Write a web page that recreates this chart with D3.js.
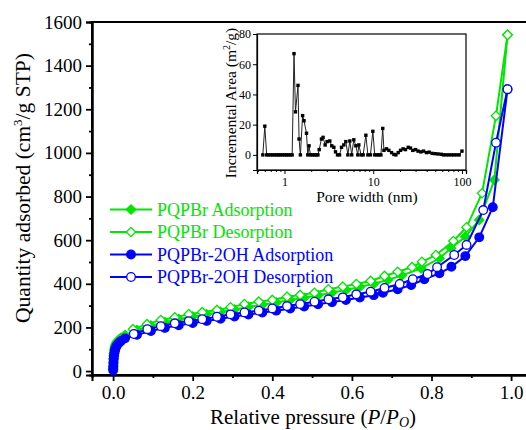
<!DOCTYPE html>
<html><head><meta charset="utf-8">
<script src="https://cdn.jsdelivr.net/npm/d3@7"></script>
<style>
body{margin:0;background:#fff;}
svg{display:block;}
</style></head>
<body><svg id="c" width="526" height="430"></svg>
<script>
// ---------- main isotherm data ----------
const pqpbrAdsP = [0.0002,0.0004,0.0007,0.001,0.0015,0.002,0.003,0.004,0.005,0.006,0.008,0.01,0.015,0.02,0.03,0.06,0.095,0.13,0.165,0.2,0.235,0.27,0.305,0.34,0.375,0.41,0.445,0.48,0.515,0.55,0.585,0.62,0.655,0.69,0.725,0.774,0.82,0.849,0.885,0.92,0.958,0.991];
const pqpbrAdsQ = [8,20,38,55,70,82,95,105,113,120,128,135,145,152,165,188,208,224,238,250,260,271,282,294,304,314,326,336,347,360,372,386,400,418,438,471,517,563,616,693,876,1541];
const pqpbrDesP = [0.991,0.962,0.927,0.888,0.855,0.811,0.776,0.751,0.715,0.682,0.647,0.611,0.577,0.541,0.506,0.47,0.437,0.40,0.366,0.33,0.295,0.261,0.224,0.19,0.155,0.12,0.085,0.05];
const pqpbrDesQ = [1541,1170,815,659,596,532,501,476,455,436,413,399,387,375,359,349,341,326,318,307,292,280,270,261,246,234,215,192];
const ohAdsP = [0.0002,0.0004,0.0007,0.001,0.0015,0.002,0.003,0.004,0.005,0.006,0.008,0.01,0.015,0.02,0.03,0.06,0.095,0.13,0.165,0.2,0.235,0.27,0.305,0.34,0.375,0.41,0.445,0.48,0.515,0.55,0.585,0.62,0.655,0.678,0.715,0.749,0.782,0.82,0.85,0.885,0.92,0.954,0.991];
const ohAdsQ = [4,14,28,42,56,68,80,90,98,105,113,120,130,138,150,166,184,198,210,220,230,240,250,259,268,277,287,296,306,316,326,337,348,359,375,394,421,448,478,527,613,751,1292];
const ohDesP = [0.991,0.962,0.93,0.888,0.857,0.814,0.79,0.753,0.72,0.682,0.647,0.611,0.577,0.541,0.506,0.47,0.437,0.40,0.366,0.33,0.295,0.261,0.224,0.19,0.155,0.12,0.086,0.052];
const ohDesQ = [1292,1047,738,578,532,476,445,421,399,381,364,352,338,329,318,307,298,287,277,269,260,249,238,229,219,206,192,170];

const seriesNames = ["PQPBr Adsorption","PQPBr Desorption","PQPBr-2OH Adsorption","PQPBr-2OH Desorption"];
const xTicks = [0,0.2,0.4,0.6,0.8,1.0];
const xMinor = [0.1,0.3,0.5,0.7,0.9];
const yTicks = [0,200,400,600,800,1000,1200,1400,1600];
const yMinor = [100,300,500,700,900,1100,1300,1500];

// ---------- inset pore-size data ----------
const poreWidth = [0.57,0.60,0.63,0.66,0.70,0.74,0.78,0.82,0.86,0.90,0.95,1.00,1.05,1.10,1.16,1.22,1.28,1.33,1.42,1.46,1.51,1.60,1.66,1.77,1.83,1.89,1.96,2.07,2.17,2.28,2.38,2.46,2.61,2.72,2.87,3.02,3.24,3.41,3.60,3.76,3.96,4.17,4.39,4.66,4.91,5.18,5.45,5.72,6.04,6.37,6.70,6.88,7.30,7.70,8.26,8.70,9.30,9.90,10.4,11.0,11.6,12.2,12.8,13.2,14.1,15.0,16.1,17.1,18.0,19.1,20.3,21.7,23.1,24.8,26.3,27.9,30.0,32.0,34.4,36.9,39.8,42.7,46.1,49.9,53.8,58.3,62,66,71,76,81,87,93,100];
const incArea   = [0,19,0,0,0,0,0,0,0,0,0,0,0,0,0,0,67,28.5,46,10.5,0,26,22.6,14.3,0,6,0,0,0,0,0,3.5,10.5,11.6,6.6,8.8,9.2,6,5,2,0,0,5,6.6,8.8,0,9.2,0,10,6,0,6.6,0,0,13,0,0,15.6,0,0,0,0,17.5,3,4,3,1.5,0.3,0,1.5,3,4,3.5,5,4.5,3,3.5,2.5,2,2.5,1.5,1.8,1,0.8,0.6,0.4,0,0,0,0,0,0,0,2.5];
const insetYTicks = [0,20,40,60,80];
const insetXTicks = [1,10,100];

// ---------- drawing ----------
const FONT = "'Liberation Serif','Times New Roman',Times,Tinos,'Nimbus Roman','DejaVu Serif',serif";
const GREEN = "#00e600", BLUE = "#0000ff";
const svg = d3.select("#c").attr("font-family", FONT);
const L = 92, R = 531, T = 22, B = 375;
const x = d3.scaleLinear().domain([-0.053, 1.05]).range([L, R]);
const y = d3.scaleLinear().domain([-18, 1600]).range([B, T]);

// frame
svg.append("rect").attr("x", L).attr("y", T).attr("width", R - L).attr("height", B - T)
  .attr("fill", "none").attr("stroke", "#000").attr("stroke-width", 2);

// axes
const gx = svg.append("g").attr("transform", `translate(0,${B})`)
  .call(d3.axisBottom(x).tickValues(xTicks).tickFormat(d3.format(".1f")).tickSize(6).tickPadding(5));
const gxm = svg.append("g").attr("transform", `translate(0,${B})`)
  .call(d3.axisBottom(x).tickValues(xMinor).tickFormat("").tickSize(3));
const gy = svg.append("g").attr("transform", `translate(${L},0)`)
  .call(d3.axisLeft(y).tickValues(yTicks).tickFormat(d3.format("d")).tickSize(6).tickPadding(4));
const gym = svg.append("g").attr("transform", `translate(${L},0)`)
  .call(d3.axisLeft(y).tickValues(yMinor).tickFormat("").tickSize(3));
[gx, gxm, gy, gym].forEach(g => {
  g.attr("font-family", FONT);
  g.select(".domain").attr("stroke", "#000").attr("stroke-width", 2);
  g.selectAll(".tick line").attr("stroke", "#000").attr("stroke-width", 1.8);
  g.selectAll(".tick text").attr("fill", "#000").attr("font-family", FONT).style("font-size", "19px");
});

// axis titles
const xt = svg.append("text").attr("x", 313).attr("y", 423.5).attr("text-anchor", "middle").attr("font-family", FONT).style("font-size", "21px");
xt.append("tspan").text("Relative pressure (");
xt.append("tspan").style("font-style", "italic").text("P");
xt.append("tspan").text("/");
xt.append("tspan").style("font-style", "italic").text("P");
xt.append("tspan").style("font-style", "italic").style("font-size", "14px").attr("dy", 3).text("O");
xt.append("tspan").attr("dy", -3).text(")");

const yt = svg.append("text").attr("transform", "translate(30,188) rotate(-90)").attr("text-anchor", "middle").attr("font-family", FONT).style("font-size", "21.5px");
yt.append("tspan").text("Quantity adsorbed (cm");
yt.append("tspan").style("font-size", "13px").attr("dy", -8).text("3");
yt.append("tspan").attr("dy", 8).text("/g STP)");

// series
svg.append("clipPath").attr("id", "pc").append("rect").attr("x", L).attr("y", T - 10).attr("width", R - L).attr("height", B - T + 10);
const series = [
  {p: pqpbrAdsP, q: pqpbrAdsQ, color: GREEN, shape: "diamond", filled: true},
  {p: pqpbrDesP, q: pqpbrDesQ, color: GREEN, shape: "diamond", filled: false},
  {p: ohAdsP, q: ohAdsQ, color: BLUE, shape: "circle", filled: true},
  {p: ohDesP, q: ohDesQ, color: BLUE, shape: "circle", filled: false}
];
const line = d3.line().x(d => x(d[0])).y(d => y(d[1]));
const symDiamond = d3.symbol().type(d3.symbolSquare).size(44);
function drawMarker(g, cx, cy, s) {
  if (s.shape === "circle") {
    g.append("circle").attr("cx", cx).attr("cy", cy).attr("r", 4.3)
      .attr("fill", s.filled ? s.color : "#fff").attr("stroke", s.color).attr("stroke-width", 1.3);
  } else {
    g.append("path").attr("d", symDiamond()).attr("transform", `translate(${cx},${cy}) rotate(45)`)
      .attr("fill", s.filled ? s.color : "#fff").attr("stroke", s.color).attr("stroke-width", 1.3);
  }
}
const plotG = svg.append("g").attr("clip-path", "url(#pc)");
series.forEach(s => {
  const pts = s.p.map((v, i) => [v, s.q[i]]);
  const g = plotG.append("g");
  g.append("path").attr("d", line(pts)).attr("fill", "none").attr("stroke", s.color).attr("stroke-width", 2);
  pts.forEach(d => drawMarker(g, x(d[0]), y(d[1]), s));
});

// legend
const lg = svg.append("g");
series.forEach((s, i) => {
  const cy = 209.5 + i * 22.5;
  lg.append("line").attr("x1", 110).attr("x2", 152).attr("y1", cy).attr("y2", cy).attr("stroke", s.color).attr("stroke-width", 2);
  drawMarker(lg, 131, cy, s);
  lg.append("text").attr("x", 157).attr("y", cy).attr("dy", "0.34em").attr("fill", s.color).attr("font-family", FONT).style("font-size", "18px").text(seriesNames[i]);
});

// ---------- inset ----------
const IL = 257, IR = 466, IT = 34, IB = 170;
const xi = d3.scaleLog().domain([0.49, 111]).range([IL, IR]);
const yi = d3.scaleLinear().domain([-10, 80]).range([IB, IT]);
const ig = svg.append("g");
ig.append("rect").attr("x", IL).attr("y", IT).attr("width", IR - IL).attr("height", IB - IT).attr("fill", "#fff").attr("stroke", "#000").attr("stroke-width", 1.2);
const minorLog = [];
[0.1, 1, 10].forEach(dec => { for (let k = 2; k <= 9; k++) { const v = dec * k; if (v >= 0.49 && v <= 111) minorLog.push(v); } });
const gix = ig.append("g").attr("transform", `translate(0,${IB})`)
  .call(d3.axisBottom(xi).tickValues(insetXTicks).tickFormat(d3.format("d")).tickSize(4).tickPadding(3));
const gixm = ig.append("g").attr("transform", `translate(0,${IB})`)
  .call(d3.axisBottom(xi).tickValues(minorLog).tickFormat("").tickSize(2));
const giy = ig.append("g").attr("transform", `translate(${IL},0)`)
  .call(d3.axisLeft(yi).tickValues(insetYTicks).tickFormat(d3.format("d")).tickSize(4).tickPadding(2));
[gix, gixm, giy].forEach(g => {
  g.attr("font-family", FONT);
  g.select(".domain").attr("stroke", "#000").attr("stroke-width", 1.2);
  g.selectAll(".tick line").attr("stroke", "#000").attr("stroke-width", 1);
  g.selectAll(".tick text").attr("fill", "#000").attr("font-family", FONT).style("font-size", "12px");
});
const ipts = poreWidth.map((v, i) => [v, incArea[i]]);
ig.append("path").attr("d", d3.line().x(d => xi(d[0])).y(d => yi(d[1]))(ipts))
  .attr("fill", "none").attr("stroke", "#222").attr("stroke-width", 1);
ig.selectAll("rect.m").data(ipts).enter().append("rect").attr("class", "m")
  .attr("x", d => xi(d[0]) - 1.7).attr("y", d => yi(d[1]) - 1.7).attr("width", 3.4).attr("height", 3.4).attr("fill", "#000");
ig.append("text").attr("x", 367).attr("y", 202).attr("text-anchor", "middle").attr("font-family", FONT).style("font-size", "15.5px").text("Pore width (nm)");
const iyt = ig.append("text").attr("transform", "translate(236,103) rotate(-90)").attr("text-anchor", "middle").attr("font-family", FONT).style("font-size", "15.5px");
iyt.append("tspan").text("Incremental Area (m");
iyt.append("tspan").style("font-size", "10px").attr("dy", -6).text("2");
iyt.append("tspan").attr("dy", 6).text("/g)");
</script></body></html>
